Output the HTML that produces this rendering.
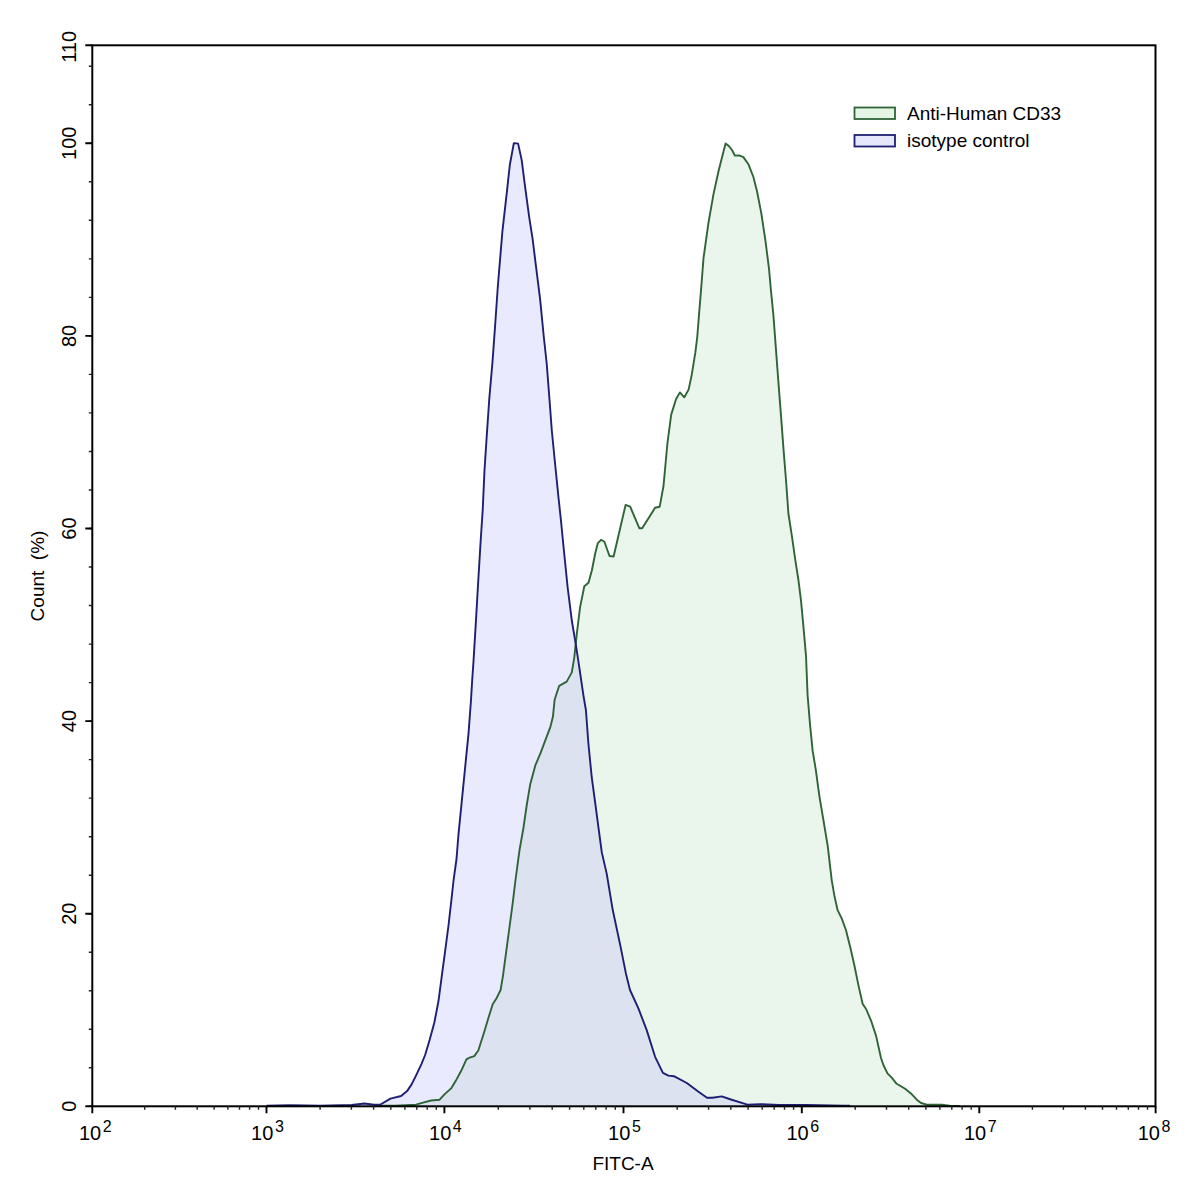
<!DOCTYPE html>
<html><head><meta charset="utf-8"><style>
html,body{margin:0;padding:0;background:#fff;}
body{width:1197px;height:1193px;overflow:hidden;font-family:"Liberation Sans",sans-serif;}
svg{display:block;}
</style></head><body>
<svg width="1197" height="1193" viewBox="0 0 1197 1193"><defs><clipPath id="gc"><path d="M380.0,1105.8 L395.0,1105.8 L416.1,1104.7 L422.1,1102.8 L431.1,1100.5 L439.4,1099.8 L444.7,1094.1 L451.4,1088.1 L455.9,1080.6 L461.2,1070.8 L466.4,1059.3 L469.6,1057.7 L474.3,1056.1 L478.3,1050.5 L483.9,1033.0 L488.7,1017.0 L492.7,1004.3 L496.7,997.9 L500.6,990.0 L503.0,975.6 L506.2,951.7 L509.4,927.8 L512.6,903.9 L515.5,880.0 L519.4,850.9 L523.5,827.5 L526.9,804.0 L530.3,783.9 L535.3,765.4 L540.3,753.7 L545.3,740.3 L550.4,726.8 L552.9,716.8 L554.6,700.0 L555.9,695.8 L559.2,685.8 L566.7,681.6 L571.8,672.4 L574.3,657.3 L576.8,633.9 L580.1,607.1 L584.3,586.2 L588.5,582.8 L591.9,570.2 L595.2,553.5 L597.7,543.4 L601.1,539.8 L604.4,541.8 L609.5,556.0 L613.6,556.5 L620.0,529.0 L625.6,504.9 L630.2,506.7 L639.4,528.3 L642.2,528.3 L655.1,507.7 L659.7,506.7 L663.5,486.0 L667.4,443.5 L671.2,414.6 L676.0,399.2 L679.9,392.4 L684.3,397.3 L688.6,389.6 L691.5,376.1 L695.3,352.9 L697.2,337.5 L699.2,312.4 L701.1,289.3 L703.5,258.2 L708.5,222.6 L713.5,194.1 L718.5,171.3 L722.8,154.2 L725.6,143.5 L728.5,145.7 L732.0,150.0 L734.9,155.6 L739.1,155.4 L743.4,157.1 L748.4,164.2 L753.4,177.0 L757.0,191.3 L761.2,212.6 L765.5,241.1 L769.1,269.6 L770.9,290.0 L773.4,315.1 L775.9,348.6 L778.4,382.1 L781.0,415.6 L783.5,449.1 L786.0,480.0 L788.4,513.5 L791.8,535.3 L795.1,558.7 L798.5,580.5 L801.0,600.6 L803.5,627.4 L806.0,655.8 L807.6,695.1 L810.1,725.3 L812.6,750.4 L815.9,770.5 L819.3,795.6 L823.5,820.7 L827.7,845.8 L831.7,880.1 L834.3,895.2 L837.6,910.2 L841.8,918.6 L846.0,930.3 L850.2,947.1 L854.4,965.5 L858.5,985.6 L862.7,1004.0 L866.1,1009.0 L871.1,1020.8 L876.1,1035.9 L881.0,1058.0 L883.4,1065.0 L887.5,1073.4 L891.7,1077.6 L896.7,1083.8 L902.6,1087.2 L905.1,1088.8 L910.9,1093.4 L916.8,1099.7 L921.0,1103.0 L926.8,1104.7 L941.8,1104.7 L951.0,1106.0 L960.0,1106.0 L960.0,1106.3 L380.0,1106.3 Z"/></clipPath></defs><path d="M380.0,1105.8 L395.0,1105.8 L416.1,1104.7 L422.1,1102.8 L431.1,1100.5 L439.4,1099.8 L444.7,1094.1 L451.4,1088.1 L455.9,1080.6 L461.2,1070.8 L466.4,1059.3 L469.6,1057.7 L474.3,1056.1 L478.3,1050.5 L483.9,1033.0 L488.7,1017.0 L492.7,1004.3 L496.7,997.9 L500.6,990.0 L503.0,975.6 L506.2,951.7 L509.4,927.8 L512.6,903.9 L515.5,880.0 L519.4,850.9 L523.5,827.5 L526.9,804.0 L530.3,783.9 L535.3,765.4 L540.3,753.7 L545.3,740.3 L550.4,726.8 L552.9,716.8 L554.6,700.0 L555.9,695.8 L559.2,685.8 L566.7,681.6 L571.8,672.4 L574.3,657.3 L576.8,633.9 L580.1,607.1 L584.3,586.2 L588.5,582.8 L591.9,570.2 L595.2,553.5 L597.7,543.4 L601.1,539.8 L604.4,541.8 L609.5,556.0 L613.6,556.5 L620.0,529.0 L625.6,504.9 L630.2,506.7 L639.4,528.3 L642.2,528.3 L655.1,507.7 L659.7,506.7 L663.5,486.0 L667.4,443.5 L671.2,414.6 L676.0,399.2 L679.9,392.4 L684.3,397.3 L688.6,389.6 L691.5,376.1 L695.3,352.9 L697.2,337.5 L699.2,312.4 L701.1,289.3 L703.5,258.2 L708.5,222.6 L713.5,194.1 L718.5,171.3 L722.8,154.2 L725.6,143.5 L728.5,145.7 L732.0,150.0 L734.9,155.6 L739.1,155.4 L743.4,157.1 L748.4,164.2 L753.4,177.0 L757.0,191.3 L761.2,212.6 L765.5,241.1 L769.1,269.6 L770.9,290.0 L773.4,315.1 L775.9,348.6 L778.4,382.1 L781.0,415.6 L783.5,449.1 L786.0,480.0 L788.4,513.5 L791.8,535.3 L795.1,558.7 L798.5,580.5 L801.0,600.6 L803.5,627.4 L806.0,655.8 L807.6,695.1 L810.1,725.3 L812.6,750.4 L815.9,770.5 L819.3,795.6 L823.5,820.7 L827.7,845.8 L831.7,880.1 L834.3,895.2 L837.6,910.2 L841.8,918.6 L846.0,930.3 L850.2,947.1 L854.4,965.5 L858.5,985.6 L862.7,1004.0 L866.1,1009.0 L871.1,1020.8 L876.1,1035.9 L881.0,1058.0 L883.4,1065.0 L887.5,1073.4 L891.7,1077.6 L896.7,1083.8 L902.6,1087.2 L905.1,1088.8 L910.9,1093.4 L916.8,1099.7 L921.0,1103.0 L926.8,1104.7 L941.8,1104.7 L951.0,1106.0 L960.0,1106.0 L960.0,1106.3 L380.0,1106.3 Z" fill="#eaf5ec"/><path d="M266.5,1105.8 L290.0,1105.3 L320.0,1105.6 L351.7,1105.0 L364.6,1103.5 L373.9,1104.7 L380.0,1104.7 L390.5,1098.6 L401.1,1096.0 L407.1,1091.1 L411.6,1084.4 L416.1,1075.3 L421.4,1064.1 L425.1,1055.0 L429.6,1040.0 L434.3,1022.8 L438.5,1001.0 L441.8,975.8 L445.2,950.7 L448.5,925.5 L451.4,900.0 L453.6,880.0 L456.5,859.0 L458.5,834.2 L461.0,809.1 L463.5,783.9 L466.0,758.7 L468.5,733.6 L471.0,700.0 L472.2,680.0 L473.5,661.4 L475.9,621.6 L478.2,581.7 L480.6,541.9 L482.7,510.0 L484.5,470.2 L486.9,433.6 L489.3,398.5 L492.5,361.9 L494.8,330.0 L497.8,286.7 L502.4,231.4 L507.0,190.8 L509.8,165.0 L513.8,143.3 L516.7,143.4 L518.1,143.6 L521.7,160.1 L525.1,186.9 L529.2,217.1 L532.6,238.9 L535.9,265.7 L540.1,299.2 L543.6,335.0 L546.7,363.5 L549.3,397.0 L551.8,430.5 L555.1,464.0 L558.5,497.5 L560.9,520.0 L564.2,553.5 L567.6,587.0 L571.8,620.5 L576.0,645.6 L579.3,667.4 L583.5,695.8 L585.9,710.0 L588.4,743.5 L591.7,777.0 L595.1,802.1 L598.4,827.2 L601.8,852.4 L606.8,874.1 L612.7,909.8 L620.7,947.4 L625.9,973.4 L630.0,990.0 L638.4,1008.4 L646.7,1030.1 L655.1,1056.8 L662.9,1072.9 L668.4,1075.6 L673.9,1076.2 L686.8,1083.0 L697.8,1091.2 L707.0,1097.7 L712.5,1097.7 L721.7,1096.4 L730.9,1099.5 L747.4,1104.7 L760.3,1104.1 L778.7,1105.0 L806.3,1105.0 L843.0,1105.6 L850.0,1105.8 L850.0,1106.3 L266.5,1106.3 Z" fill="#eaeafe"/><path d="M266.5,1105.8 L290.0,1105.3 L320.0,1105.6 L351.7,1105.0 L364.6,1103.5 L373.9,1104.7 L380.0,1104.7 L390.5,1098.6 L401.1,1096.0 L407.1,1091.1 L411.6,1084.4 L416.1,1075.3 L421.4,1064.1 L425.1,1055.0 L429.6,1040.0 L434.3,1022.8 L438.5,1001.0 L441.8,975.8 L445.2,950.7 L448.5,925.5 L451.4,900.0 L453.6,880.0 L456.5,859.0 L458.5,834.2 L461.0,809.1 L463.5,783.9 L466.0,758.7 L468.5,733.6 L471.0,700.0 L472.2,680.0 L473.5,661.4 L475.9,621.6 L478.2,581.7 L480.6,541.9 L482.7,510.0 L484.5,470.2 L486.9,433.6 L489.3,398.5 L492.5,361.9 L494.8,330.0 L497.8,286.7 L502.4,231.4 L507.0,190.8 L509.8,165.0 L513.8,143.3 L516.7,143.4 L518.1,143.6 L521.7,160.1 L525.1,186.9 L529.2,217.1 L532.6,238.9 L535.9,265.7 L540.1,299.2 L543.6,335.0 L546.7,363.5 L549.3,397.0 L551.8,430.5 L555.1,464.0 L558.5,497.5 L560.9,520.0 L564.2,553.5 L567.6,587.0 L571.8,620.5 L576.0,645.6 L579.3,667.4 L583.5,695.8 L585.9,710.0 L588.4,743.5 L591.7,777.0 L595.1,802.1 L598.4,827.2 L601.8,852.4 L606.8,874.1 L612.7,909.8 L620.7,947.4 L625.9,973.4 L630.0,990.0 L638.4,1008.4 L646.7,1030.1 L655.1,1056.8 L662.9,1072.9 L668.4,1075.6 L673.9,1076.2 L686.8,1083.0 L697.8,1091.2 L707.0,1097.7 L712.5,1097.7 L721.7,1096.4 L730.9,1099.5 L747.4,1104.7 L760.3,1104.1 L778.7,1105.0 L806.3,1105.0 L843.0,1105.6 L850.0,1105.8 L850.0,1106.3 L266.5,1106.3 Z" fill="#dce2f0" clip-path="url(#gc)"/><path d="M380.0,1105.8 L395.0,1105.8 L416.1,1104.7 L422.1,1102.8 L431.1,1100.5 L439.4,1099.8 L444.7,1094.1 L451.4,1088.1 L455.9,1080.6 L461.2,1070.8 L466.4,1059.3 L469.6,1057.7 L474.3,1056.1 L478.3,1050.5 L483.9,1033.0 L488.7,1017.0 L492.7,1004.3 L496.7,997.9 L500.6,990.0 L503.0,975.6 L506.2,951.7 L509.4,927.8 L512.6,903.9 L515.5,880.0 L519.4,850.9 L523.5,827.5 L526.9,804.0 L530.3,783.9 L535.3,765.4 L540.3,753.7 L545.3,740.3 L550.4,726.8 L552.9,716.8 L554.6,700.0 L555.9,695.8 L559.2,685.8 L566.7,681.6 L571.8,672.4 L574.3,657.3 L576.8,633.9 L580.1,607.1 L584.3,586.2 L588.5,582.8 L591.9,570.2 L595.2,553.5 L597.7,543.4 L601.1,539.8 L604.4,541.8 L609.5,556.0 L613.6,556.5 L620.0,529.0 L625.6,504.9 L630.2,506.7 L639.4,528.3 L642.2,528.3 L655.1,507.7 L659.7,506.7 L663.5,486.0 L667.4,443.5 L671.2,414.6 L676.0,399.2 L679.9,392.4 L684.3,397.3 L688.6,389.6 L691.5,376.1 L695.3,352.9 L697.2,337.5 L699.2,312.4 L701.1,289.3 L703.5,258.2 L708.5,222.6 L713.5,194.1 L718.5,171.3 L722.8,154.2 L725.6,143.5 L728.5,145.7 L732.0,150.0 L734.9,155.6 L739.1,155.4 L743.4,157.1 L748.4,164.2 L753.4,177.0 L757.0,191.3 L761.2,212.6 L765.5,241.1 L769.1,269.6 L770.9,290.0 L773.4,315.1 L775.9,348.6 L778.4,382.1 L781.0,415.6 L783.5,449.1 L786.0,480.0 L788.4,513.5 L791.8,535.3 L795.1,558.7 L798.5,580.5 L801.0,600.6 L803.5,627.4 L806.0,655.8 L807.6,695.1 L810.1,725.3 L812.6,750.4 L815.9,770.5 L819.3,795.6 L823.5,820.7 L827.7,845.8 L831.7,880.1 L834.3,895.2 L837.6,910.2 L841.8,918.6 L846.0,930.3 L850.2,947.1 L854.4,965.5 L858.5,985.6 L862.7,1004.0 L866.1,1009.0 L871.1,1020.8 L876.1,1035.9 L881.0,1058.0 L883.4,1065.0 L887.5,1073.4 L891.7,1077.6 L896.7,1083.8 L902.6,1087.2 L905.1,1088.8 L910.9,1093.4 L916.8,1099.7 L921.0,1103.0 L926.8,1104.7 L941.8,1104.7 L951.0,1106.0 L960.0,1106.0" fill="none" stroke="#2f6436" stroke-width="1.9" stroke-linejoin="round"/><path d="M266.5,1105.8 L290.0,1105.3 L320.0,1105.6 L351.7,1105.0 L364.6,1103.5 L373.9,1104.7 L380.0,1104.7 L390.5,1098.6 L401.1,1096.0 L407.1,1091.1 L411.6,1084.4 L416.1,1075.3 L421.4,1064.1 L425.1,1055.0 L429.6,1040.0 L434.3,1022.8 L438.5,1001.0 L441.8,975.8 L445.2,950.7 L448.5,925.5 L451.4,900.0 L453.6,880.0 L456.5,859.0 L458.5,834.2 L461.0,809.1 L463.5,783.9 L466.0,758.7 L468.5,733.6 L471.0,700.0 L472.2,680.0 L473.5,661.4 L475.9,621.6 L478.2,581.7 L480.6,541.9 L482.7,510.0 L484.5,470.2 L486.9,433.6 L489.3,398.5 L492.5,361.9 L494.8,330.0 L497.8,286.7 L502.4,231.4 L507.0,190.8 L509.8,165.0 L513.8,143.3 L516.7,143.4 L518.1,143.6 L521.7,160.1 L525.1,186.9 L529.2,217.1 L532.6,238.9 L535.9,265.7 L540.1,299.2 L543.6,335.0 L546.7,363.5 L549.3,397.0 L551.8,430.5 L555.1,464.0 L558.5,497.5 L560.9,520.0 L564.2,553.5 L567.6,587.0 L571.8,620.5 L576.0,645.6 L579.3,667.4 L583.5,695.8 L585.9,710.0 L588.4,743.5 L591.7,777.0 L595.1,802.1 L598.4,827.2 L601.8,852.4 L606.8,874.1 L612.7,909.8 L620.7,947.4 L625.9,973.4 L630.0,990.0 L638.4,1008.4 L646.7,1030.1 L655.1,1056.8 L662.9,1072.9 L668.4,1075.6 L673.9,1076.2 L686.8,1083.0 L697.8,1091.2 L707.0,1097.7 L712.5,1097.7 L721.7,1096.4 L730.9,1099.5 L747.4,1104.7 L760.3,1104.1 L778.7,1105.0 L806.3,1105.0 L843.0,1105.6 L850.0,1105.8" fill="none" stroke="#1f1f72" stroke-width="1.9" stroke-linejoin="round"/><rect x="92.3" y="45.3" width="1063.2" height="1061.0" fill="none" stroke="#000" stroke-width="2"/><path d="M88.8,1106.3 H92.3 M88.8,1067.8 H92.3 M88.8,1029.3 H92.3 M88.8,990.7 H92.3 M88.8,952.2 H92.3 M88.8,913.7 H92.3 M88.8,875.2 H92.3 M88.8,836.7 H92.3 M88.8,798.1 H92.3 M88.8,759.6 H92.3 M88.8,721.1 H92.3 M88.8,682.6 H92.3 M88.8,644.1 H92.3 M88.8,605.5 H92.3 M88.8,567.0 H92.3 M88.8,528.5 H92.3 M88.8,490.0 H92.3 M88.8,451.5 H92.3 M88.8,412.9 H92.3 M88.8,374.4 H92.3 M88.8,335.9 H92.3 M88.8,297.4 H92.3 M88.8,258.9 H92.3 M88.8,220.3 H92.3 M88.8,181.8 H92.3 M88.8,143.3 H92.3 M88.8,104.8 H92.3 M88.8,66.3 H92.3 M144.7,1106.3 V1109.8 M175.4,1106.3 V1109.8 M197.2,1106.3 V1109.8 M214.1,1106.3 V1109.8 M227.9,1106.3 V1109.8 M239.5,1106.3 V1109.8 M249.6,1106.3 V1109.8 M258.5,1106.3 V1109.8 M320.1,1106.3 V1109.8 M351.4,1106.3 V1109.8 M373.6,1106.3 V1109.8 M390.8,1106.3 V1109.8 M404.9,1106.3 V1109.8 M416.8,1106.3 V1109.8 M427.2,1106.3 V1109.8 M436.3,1106.3 V1109.8 M498.3,1106.3 V1109.8 M529.9,1106.3 V1109.8 M552.2,1106.3 V1109.8 M569.6,1106.3 V1109.8 M583.8,1106.3 V1109.8 M595.8,1106.3 V1109.8 M606.1,1106.3 V1109.8 M615.3,1106.3 V1109.8 M677.2,1106.3 V1109.8 M708.6,1106.3 V1109.8 M730.8,1106.3 V1109.8 M748.1,1106.3 V1109.8 M762.2,1106.3 V1109.8 M774.2,1106.3 V1109.8 M784.5,1106.3 V1109.8 M793.6,1106.3 V1109.8 M855.2,1106.3 V1109.8 M886.5,1106.3 V1109.8 M908.7,1106.3 V1109.8 M925.9,1106.3 V1109.8 M939.9,1106.3 V1109.8 M951.8,1106.3 V1109.8 M962.1,1106.3 V1109.8 M971.2,1106.3 V1109.8 M1032.4,1106.3 V1109.8 M1063.4,1106.3 V1109.8 M1085.4,1106.3 V1109.8 M1102.5,1106.3 V1109.8 M1116.5,1106.3 V1109.8 M1128.3,1106.3 V1109.8 M1138.5,1106.3 V1109.8 M1147.5,1106.3 V1109.8" stroke="#222" stroke-width="1.4" fill="none"/><path d="M85.3,1106.3 H92.3 M85.3,913.7 H92.3 M85.3,721.1 H92.3 M85.3,528.5 H92.3 M85.3,335.9 H92.3 M85.3,143.3 H92.3 M85.3,45.3 H92.3 M92.3,1106.3 V1113.3 M266.5,1106.3 V1113.3 M444.4,1106.3 V1113.3 M623.5,1106.3 V1113.3 M801.8,1106.3 V1113.3 M979.3,1106.3 V1113.3 M1155.6,1106.3 V1113.3" stroke="#000" stroke-width="1.9" fill="none"/><text transform="translate(75.6,1106.3) rotate(-90)" text-anchor="middle" font-family="'Liberation Sans', sans-serif" font-size="20" fill="#000">0</text><text transform="translate(75.6,913.7) rotate(-90)" text-anchor="middle" font-family="'Liberation Sans', sans-serif" font-size="20" fill="#000">20</text><text transform="translate(75.6,721.1) rotate(-90)" text-anchor="middle" font-family="'Liberation Sans', sans-serif" font-size="20" fill="#000">40</text><text transform="translate(75.6,528.5) rotate(-90)" text-anchor="middle" font-family="'Liberation Sans', sans-serif" font-size="20" fill="#000">60</text><text transform="translate(75.6,335.9) rotate(-90)" text-anchor="middle" font-family="'Liberation Sans', sans-serif" font-size="20" fill="#000">80</text><text transform="translate(75.6,143.3) rotate(-90)" text-anchor="middle" font-family="'Liberation Sans', sans-serif" font-size="20" fill="#000">100</text><text transform="translate(75.6,46.9) rotate(-90)" text-anchor="middle" font-family="'Liberation Sans', sans-serif" font-size="20" fill="#000">110</text><text x="95.3" y="1139.6" text-anchor="middle" font-family="'Liberation Sans', sans-serif" font-size="20" fill="#000">10<tspan dx="1.6" dy="-8" font-size="16">2</tspan></text><text x="267.5" y="1139.6" text-anchor="middle" font-family="'Liberation Sans', sans-serif" font-size="20" fill="#000">10<tspan dx="1.6" dy="-8" font-size="16">3</tspan></text><text x="445.4" y="1139.6" text-anchor="middle" font-family="'Liberation Sans', sans-serif" font-size="20" fill="#000">10<tspan dx="1.6" dy="-8" font-size="16">4</tspan></text><text x="624.5" y="1139.6" text-anchor="middle" font-family="'Liberation Sans', sans-serif" font-size="20" fill="#000">10<tspan dx="1.6" dy="-8" font-size="16">5</tspan></text><text x="802.8" y="1139.6" text-anchor="middle" font-family="'Liberation Sans', sans-serif" font-size="20" fill="#000">10<tspan dx="1.6" dy="-8" font-size="16">6</tspan></text><text x="980.3" y="1139.6" text-anchor="middle" font-family="'Liberation Sans', sans-serif" font-size="20" fill="#000">10<tspan dx="1.6" dy="-8" font-size="16">7</tspan></text><text x="1154.1" y="1139.6" text-anchor="middle" font-family="'Liberation Sans', sans-serif" font-size="20" fill="#000">10<tspan dx="1.6" dy="-8" font-size="16">8</tspan></text><text x="623" y="1170" text-anchor="middle" font-family="'Liberation Sans', sans-serif" font-size="19" fill="#000">FITC-A</text><text transform="translate(44.4,576) rotate(-90)" text-anchor="middle" font-family="'Liberation Sans', sans-serif" font-size="19" fill="#000" xml:space="preserve">Count  (%)</text><rect x="854.5" y="107.5" width="40.5" height="11.5" fill="#e4f5e6" stroke="#2f6436" stroke-width="1.8"/><rect x="854.5" y="135" width="40.5" height="11.5" fill="#e6e6fc" stroke="#1f1f72" stroke-width="1.8"/><text x="907" y="119.6" font-family="'Liberation Sans', sans-serif" font-size="19" fill="#000">Anti-Human CD33</text><text x="907" y="147" font-family="'Liberation Sans', sans-serif" font-size="19" fill="#000">isotype control</text></svg>
</body></html>
